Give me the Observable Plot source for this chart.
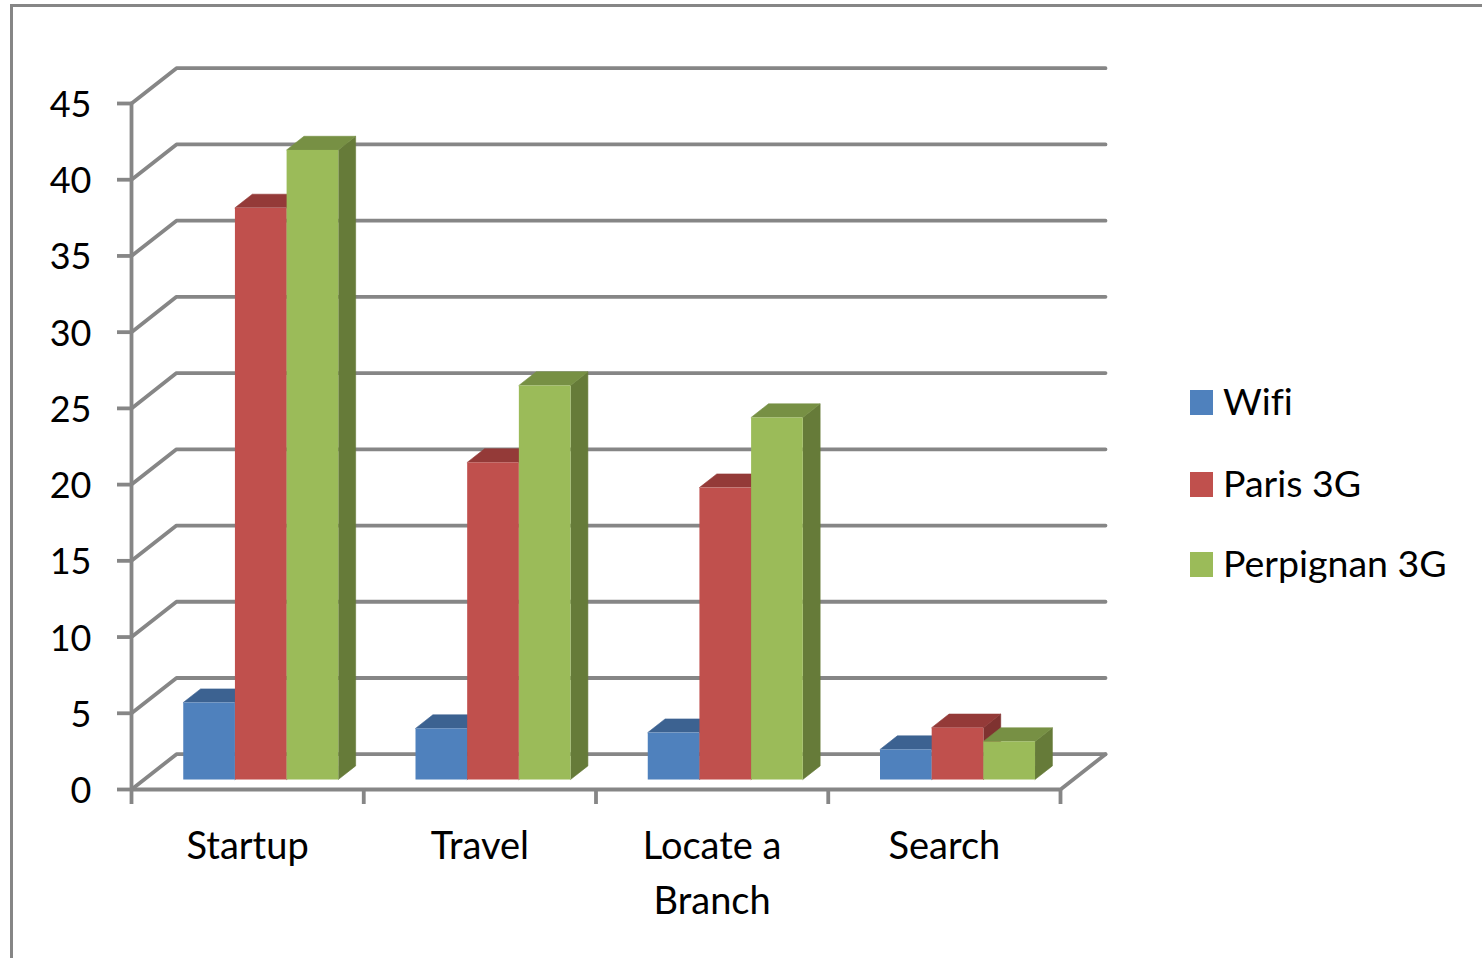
<!DOCTYPE html>
<html>
<head>
<meta charset="utf-8">
<script src="https://cdn.jsdelivr.net/npm/d3@7"></script>
<script src="https://cdn.jsdelivr.net/npm/@observablehq/plot@0.6"></script>
<style>
  html, body { margin: 0; padding: 0; background: #fff; }
  #stage { position: relative; width: 1482px; height: 958px; overflow: hidden; font-family: Lato, sans-serif; font-variant-ligatures: none; }
  #stage::before {
    content: ""; position: absolute; left: 10px; top: 4px; right: 0; bottom: 0;
    border-top: 3px solid #868686; border-left: 3px solid #868686;
  }
  #chart { position: absolute; left: 0; top: 0; }
  #chart svg { display: block; }
  #legend { position: absolute; left: 1190px; top: 0; color: #000; font-size: 37.5px; }
  .entry { position: absolute; left: 0; white-space: nowrap; display: flex; align-items: center; height: 40px; }
  .swatch { width: 23px; height: 25px; margin-right: 10px; }
  .entry span { position: relative; top: -2px; }
</style>
</head>
<body>
<div id="stage">
  <div id="chart"></div>
  <div id="legend"></div>
</div>
<script>
// Response values per screen, one list per network
const categories = ["Startup", "Travel", "Locate a\nBranch", "Search"];
const wifi = [5.05, 3.35, 3.08, 1.97];
const paris3g = [37.5, 20.8, 19.15, 3.4];
const perpignan3g = [41.3, 25.85, 23.75, 2.5];

const seriesNames = ["Wifi", "Paris 3G", "Perpignan 3G"];
const seriesValues = [wifi, paris3g, perpignan3g];
const frontColors = ["#4F81BD", "#C0504D", "#9BBB59"];
const topColors = ["#3C6291", "#943A38", "#779044"];
const sideColors = ["#34557D", "#7F3230", "#667B39"];

const yTicks = d3.range(0, 50, 5);

// Oblique projection: depth 0 is the front of the floor, depth 1 the back wall
const wallDX = 45 / 232.25;   // category units
const wallDY = 35.3 / 15.244; // value units
const project = (x, v, depth) => ({x: x + depth * wallDX, y: v + depth * wallDY});

const barFront = 0.283;
const barBack = 0.669;
const gap = 0.168;
const barWidth = 0.2225;

const gridColor = "#868686";
const gridWidth = 3.8;
const gridLine = (points) => Plot.line(points, {x: "x", y: "y", stroke: gridColor, strokeWidth: gridWidth, strokeLinejoin: "round", strokeLinecap: "round"});
// A hairline in the face colour closes the seam against the neighbouring face
const face = (points, fill) => Plot.line(points, {x: "x", y: "y", fill, stroke: fill, strokeWidth: 0.6});

// Back wall gridlines with their return to the axis, plus the floor edges
const wall = yTicks.map((v) => gridLine([project(0, v, 0), project(0, v, 1), project(4, v, 1)]));
const floor = [
  gridLine([project(0, 0, 0), project(4, 0, 0), project(4, 0, 1)]),
  gridLine([project(0, 0, 0), project(0, 45, 0)])
];

// Each bar: side and top faces first, then the front, painted left to right.
// The half-pixel nudge lines the rect up with the line marks' pixel offset.
const bars = categories.flatMap((_, c) => seriesValues.flatMap((values, s) => {
  const v = values[c];
  const x0 = c + gap + s * barWidth;
  const x1 = x0 + barWidth;
  const base = project(x0, 0, barFront).y;
  const shift = project(0, 0, barFront).x;
  return [
    face([project(x1, 0, barFront), project(x1, 0, barBack), project(x1, v, barBack), project(x1, v, barFront)], sideColors[s]),
    face([project(x0, v, barFront), project(x0, v, barBack), project(x1, v, barBack), project(x1, v, barFront)], topColors[s]),
    Plot.rect([{}], {x1: () => x0 + shift, x2: () => x1 + shift, y1: () => base, y2: () => v + base, fill: frontColors[s], dx: 0.5, dy: 0.5})
  ];
}));

const chart = Plot.plot({
  width: 1180,
  height: 958,
  marginLeft: 131,
  marginRight: 120,
  marginTop: 103,
  marginBottom: 169,
  style: {background: "transparent", fontFamily: "Lato, sans-serif", fontVariantLigatures: "none", color: "#000", overflow: "visible"},
  x: {domain: [0, 4]},
  y: {domain: [0, 45]},
  marks: [
    ...wall,
    ...floor,
    Plot.axisY({ticks: yTicks, tickSize: 14, stroke: gridColor, strokeWidth: gridWidth, tickFormat: () => "", label: null}),
    Plot.axisY({ticks: yTicks, tickSize: 0, tickPadding: 40, dy: 2, fill: "#000", fontSize: 36, label: null}),
    Plot.axisX({ticks: [0, 1, 2, 3, 4], tickSize: 15, stroke: gridColor, strokeWidth: gridWidth, tickFormat: () => "", label: null}),
    Plot.axisX({ticks: categories.map((_, i) => i + 0.5), tickSize: 0, tickPadding: 30, fill: "#000", fontSize: 38, lineHeight: 1.45, lineAnchor: "top", tickFormat: (d) => categories[d - 0.5], label: null}),
    ...bars
  ]
});
document.getElementById("chart").append(chart);

// Legend beside the plot
const legend = document.getElementById("legend");
const legendCenters = [402, 484, 564];
seriesNames.forEach((name, i) => {
  const row = document.createElement("div");
  row.className = "entry";
  row.style.top = (legendCenters[i] - 20) + "px";
  const swatch = document.createElement("div");
  swatch.className = "swatch";
  swatch.style.background = frontColors[i];
  const label = document.createElement("span");
  label.textContent = name;
  row.append(swatch, label);
  legend.append(row);
});
</script>
</body>
</html>
